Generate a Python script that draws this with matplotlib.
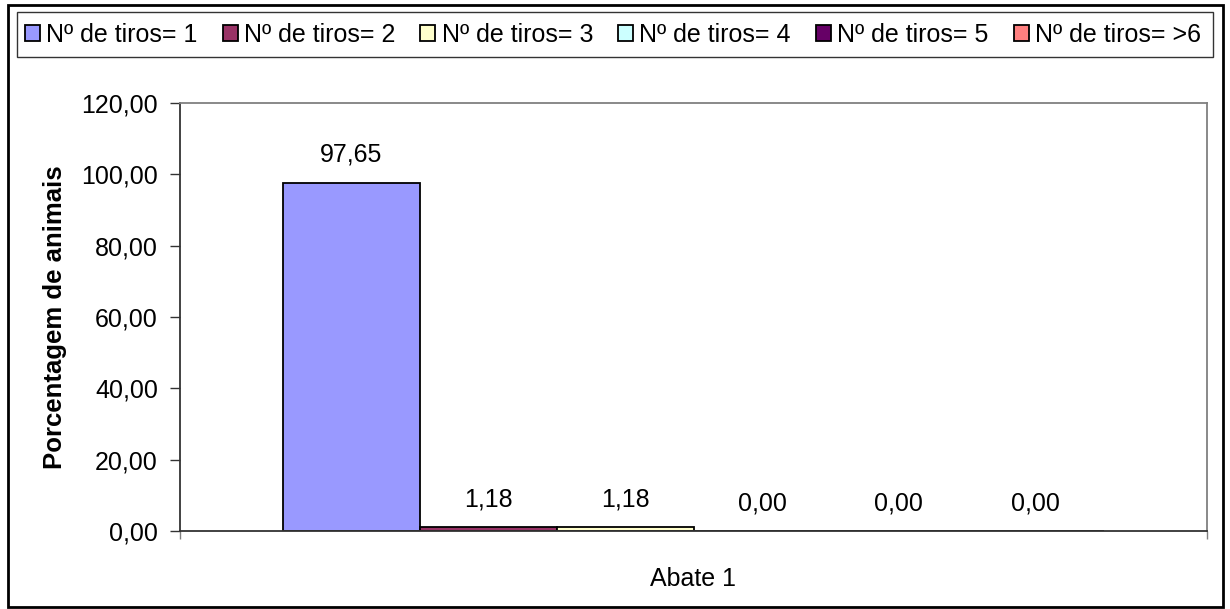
import matplotlib
matplotlib.use("Agg")
import matplotlib.pyplot as plt
from matplotlib.patches import Patch, Rectangle

plt.rcParams['font.family'] = ['Liberation Sans', 'DejaVu Sans']

# data
category = ["Abate 1"]
series = ["Nº de tiros= 1", "Nº de tiros= 2", "Nº de tiros= 3",
          "Nº de tiros= 4", "Nº de tiros= 5", "Nº de tiros= >6"]
values = [97.65, 1.18, 1.18, 0.00, 0.00, 0.00]
colors = ["#9999FF", "#993366", "#FFFFCC", "#CCFFFF", "#660066", "#FF8080"]
yticks = [0, 20, 40, 60, 80, 100, 120]

FS = 18

def fmt(v):
    return "{:.2f}".format(v).replace(".", ",")

W, H = 1230, 609
fig = plt.figure(figsize=(W / 100, H / 100), dpi=100)
ax = fig.add_axes([180 / W, 1 - 531 / H, (1207 - 180) / W, (531 - 103) / H])

bw = 1 / 7.5
for i, (v, c, s) in enumerate(zip(values, colors, series)):
    x = -3 * bw + bw * (i + 0.5)
    ax.bar(x, v, width=bw, color=c, edgecolor="black", linewidth=1.3, label=s)
    ax.annotate(fmt(v), (x, v), xytext=(0, 20), textcoords="offset points",
                ha="center", va="center", fontsize=FS)

ax.set_xlim(-0.5, 0.5)
ax.set_ylim(0, 120)
ax.set_yticks(yticks)
ax.set_yticklabels([fmt(t) for t in yticks], fontsize=FS)
ax.tick_params(axis="y", direction="out", length=7, width=1, color="#333333", pad=9)

ax.set_xticks([0])
ax.set_xticklabels(category, fontsize=FS)
ax.tick_params(axis="x", which="major", length=0, pad=26)
ax.set_xticks([-0.5, 0.5], minor=True)
ax.tick_params(axis="x", which="minor", direction="out", length=6, width=1, color="#808080")

ax.set_ylabel("Porcentagem de animais", fontsize=FS + 0.5, fontweight="bold", labelpad=10)

for side in ["top", "right"]:
    ax.spines[side].set_color("#808080")
    ax.spines[side].set_linewidth(1.3)
ax.spines["left"].set_color("#333333")
ax.spines["bottom"].set_color("#333333")
ax.spines["left"].set_linewidth(1.3)
ax.spines["bottom"].set_linewidth(1.3)

# outer chart border
fig.patches.append(Rectangle((8 / W, 1 - 607 / H), (1223 - 8) / W, (607 - 5) / H,
                             transform=fig.transFigure, fill=False,
                             edgecolor="black", linewidth=2))
# legend box
fig.patches.append(Rectangle((17 / W, 1 - 57 / H), (1213 - 17) / W, (57 - 12) / H,
                             transform=fig.transFigure, fill=False,
                             edgecolor="#333333", linewidth=1))

handles = [Patch(facecolor=c, edgecolor="black", linewidth=1.3) for c in colors]
fig.legend(handles, series, loc="center", bbox_to_anchor=(613 / W, 1 - 34.5 / H),
           ncol=6, frameon=False, fontsize=FS, handlelength=0.6, handleheight=0.6,
           handletextpad=0.25, columnspacing=1.0, borderpad=0)

fig.savefig("out.png", dpi=100)
